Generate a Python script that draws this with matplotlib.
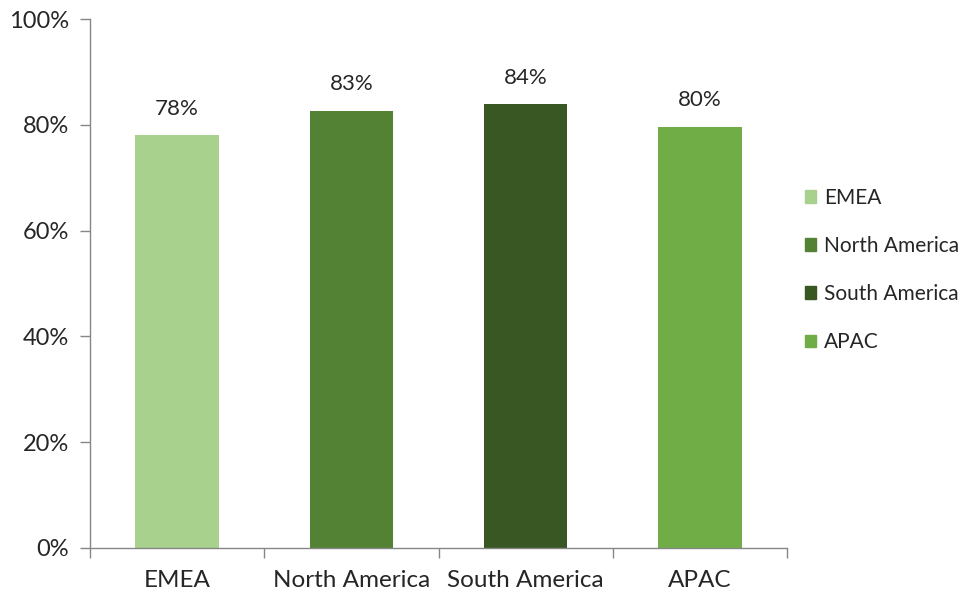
import matplotlib
matplotlib.use("Agg")
import matplotlib.pyplot as plt
from matplotlib.ticker import FixedLocator, PercentFormatter
from matplotlib.patches import Patch

categories = ["EMEA", "North America", "South America", "APAC"]
values = [0.78, 0.827, 0.839, 0.796]
colors = ["#A9D18E", "#548235", "#385723", "#70AD47"]
yticks = [0, 0.2, 0.4, 0.6, 0.8, 1.0]

plt.rcParams['font.family'] = ['Lato', 'DejaVu Sans']
fig = plt.figure(figsize=(9.65, 5.99), dpi=100)
ax = fig.add_axes([90/965, 51/599, (787-90)/965, (548-19)/599])

x = list(range(len(categories)))
bars = ax.bar(x, values, width=0.48, color=colors, zorder=2)
for xi, v in zip(x, values):
    ax.annotate(f"{v*100:.0f}%", (xi, v), xytext=(0, 12), textcoords="offset points",
                ha="center", va="bottom", fontsize=16, color="#262626")

ax.set_xlim(-0.5, len(categories) - 0.5)
ax.set_ylim(0, 1.0)
ax.set_yticks(yticks)
ax.yaxis.set_major_formatter(PercentFormatter(1.0, decimals=0))
ax.xaxis.set_major_locator(FixedLocator([i - 0.5 for i in range(len(categories) + 1)]))
ax.xaxis.set_major_formatter(plt.NullFormatter())
ax.xaxis.set_minor_locator(FixedLocator(x))
ax.set_xticklabels(categories, minor=True)
ax.tick_params(axis='x', which='minor', length=0, pad=16, labelsize=17.5, labelcolor="#262626")
ax.tick_params(axis='x', which='major', length=7, color="#868686", width=1)
ax.tick_params(axis='y', length=7, color="#868686", width=1, labelsize=17, labelcolor="#262626", pad=8)
for s in ["top", "right"]:
    ax.spines[s].set_visible(False)
for s in ["left", "bottom"]:
    ax.spines[s].set_color("#868686")
    ax.spines[s].set_linewidth(1)

handles = [Patch(color=c, label=l) for c, l in zip(colors, categories)]
fig.legend(handles=handles, loc="center left", bbox_to_anchor=(805/965, 1 - 270/599),
           frameon=False, fontsize=15, handlelength=0.55, handleheight=0.55,
           labelspacing=1.35, handletextpad=0.35, borderpad=0, borderaxespad=0,
           labelcolor="#262626")

fig.savefig("out.png", dpi=100)
